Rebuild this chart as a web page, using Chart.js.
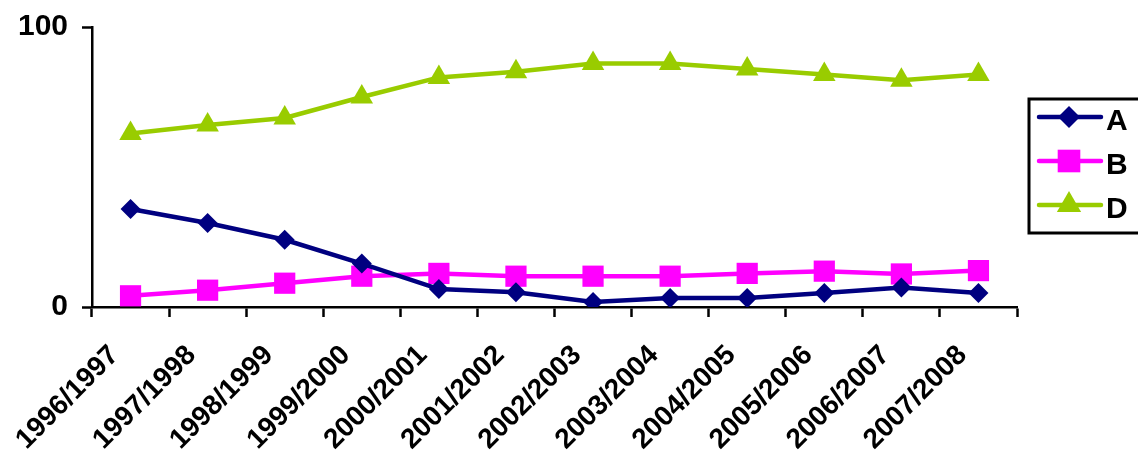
<!DOCTYPE html>
<html>
<head>
<meta charset="utf-8">
<script src="https://cdn.jsdelivr.net/npm/chart.js@4/dist/chart.umd.min.js"></script>
<style>
  html, body { margin: 0; padding: 0; background: #fff; }
  #wrap { width: 1138px; height: 457px; position: relative; }
</style>
</head>
<body>
<div id="wrap"><canvas id="chart" width="1138" height="457"></canvas></div>
<script>
// ================================
// Data
// ================================

const seasons = ['1996/1997', '1997/1998', '1998/1999', '1999/2000', '2000/2001', '2001/2002',
  '2002/2003', '2003/2004', '2004/2005', '2005/2006', '2006/2007', '2007/2008'];
const seriesA = [35, 30, 24, 15.5, 6.4, 5.3, 1.8, 3.2, 3.2, 5, 7, 5];
const seriesB = [4, 6, 8.5, 11, 12, 11, 11, 11, 12, 12.8, 11.8, 13];
const seriesD = [62, 65, 67.5, 75, 82, 84, 87, 87, 85, 83, 81, 83];
const yTicks = [0, 100];

const FONT = '"Liberation Sans", Arial, sans-serif';

// ================================
// Boxed legend (line sample + marker)
// ================================

function drawMarker(ctx, style, x, y, r, color) {
  ctx.save();
  ctx.fillStyle = color;
  ctx.beginPath();
  if (style === 'rectRot') {
    ctx.moveTo(x, y - r); ctx.lineTo(x + r, y); ctx.lineTo(x, y + r); ctx.lineTo(x - r, y);
  } else if (style === 'rect') {
    const s = r * Math.SQRT1_2;
    ctx.rect(x - s, y - s, 2 * s, 2 * s);
  } else {
    ctx.moveTo(x, y - r);
    ctx.lineTo(x + r * 0.866, y + r / 2);
    ctx.lineTo(x - r * 0.866, y + r / 2);
  }
  ctx.closePath();
  ctx.fill();
  ctx.restore();
}

const boxLegend = {
  id: 'boxLegend',
  afterDraw(chart) {
    const ctx = chart.ctx;
    const left = 1029, top = 99, bottom = 233;
    ctx.save();
    ctx.strokeStyle = '#000';
    ctx.lineWidth = 3;
    ctx.strokeRect(left, top, 120, bottom - top);
    chart.data.datasets.forEach((ds, i) => {
      const y = 117 + i * 44;
      ctx.strokeStyle = ds.borderColor;
      ctx.lineWidth = 4.5;
      ctx.lineCap = 'round';
      ctx.beginPath();
      ctx.moveTo(1039, y);
      ctx.lineTo(1101, y);
      ctx.stroke();
      drawMarker(ctx, ds.pointStyle, 1069, y, ds.pointRadius + 1, ds.backgroundColor);
      ctx.fillStyle = '#000';
      ctx.font = 'bold 30px ' + FONT;
      ctx.textBaseline = 'middle';
      ctx.fillText(ds.label, 1106, y + 5);
    });
    ctx.restore();
  }
};

// ================================
// Chart
// ================================

const ctx = document.getElementById('chart');
new Chart(ctx, {
  type: 'line',
  data: {
    labels: seasons,
    datasets: [
      { label: 'A', data: seriesA, borderColor: '#000080', backgroundColor: '#000080',
        pointStyle: 'rectRot', pointRadius: 10 },
      { label: 'B', data: seriesB, borderColor: '#ff00ff', backgroundColor: '#ff00ff',
        pointStyle: 'rect', pointRadius: 15 },
      { label: 'D', data: seriesD, borderColor: '#99cc00', backgroundColor: '#99cc00',
        pointStyle: 'triangle', pointRadius: 13 }
    ].map(d => Object.assign(d, { borderWidth: 4.5, tension: 0, pointBorderWidth: 0, pointHoverRadius: d.pointRadius }))
  },
  options: {
    responsive: false,
    devicePixelRatio: 1,
    animation: false,
    layout: { padding: { top: 27, right: 121, left: 0, bottom: 0 } },
    plugins: { legend: { display: false }, tooltip: { enabled: false } },
    scales: {
      x: {
        offset: true,
        grid: { display: true, offset: true, drawOnChartArea: false, tickLength: 10, color: '#000', tickWidth: 2.5 },
        border: { display: true, color: '#000', width: 2.5 },
        ticks: {
          color: '#000', font: { family: FONT, weight: 'bold', size: 28 },
          minRotation: 45, maxRotation: 45, autoSkip: false, labelOffset: -16, padding: 22
        },
        afterFit(scale) { scale.height = 150; }
      },
      y: {
        min: 0, max: 100,
        afterBuildTicks(scale) { scale.ticks = yTicks.map(v => ({ value: v })); },
        grid: { display: true, drawOnChartArea: false, tickLength: 10, color: '#000', tickWidth: 2.5 },
        border: { display: true, color: '#000', width: 2.5 },
        ticks: { color: '#000', font: { family: FONT, weight: 'bold', size: 30 }, padding: 14 },
        afterFit(scale) {
          scale.width = 92;
          // keep the label overhang from pushing the plot down
          scale.paddingTop = 0;
          scale.paddingBottom = 0;
        }
      }
    }
  },
  plugins: [boxLegend]
});
</script>
</body>
</html>
